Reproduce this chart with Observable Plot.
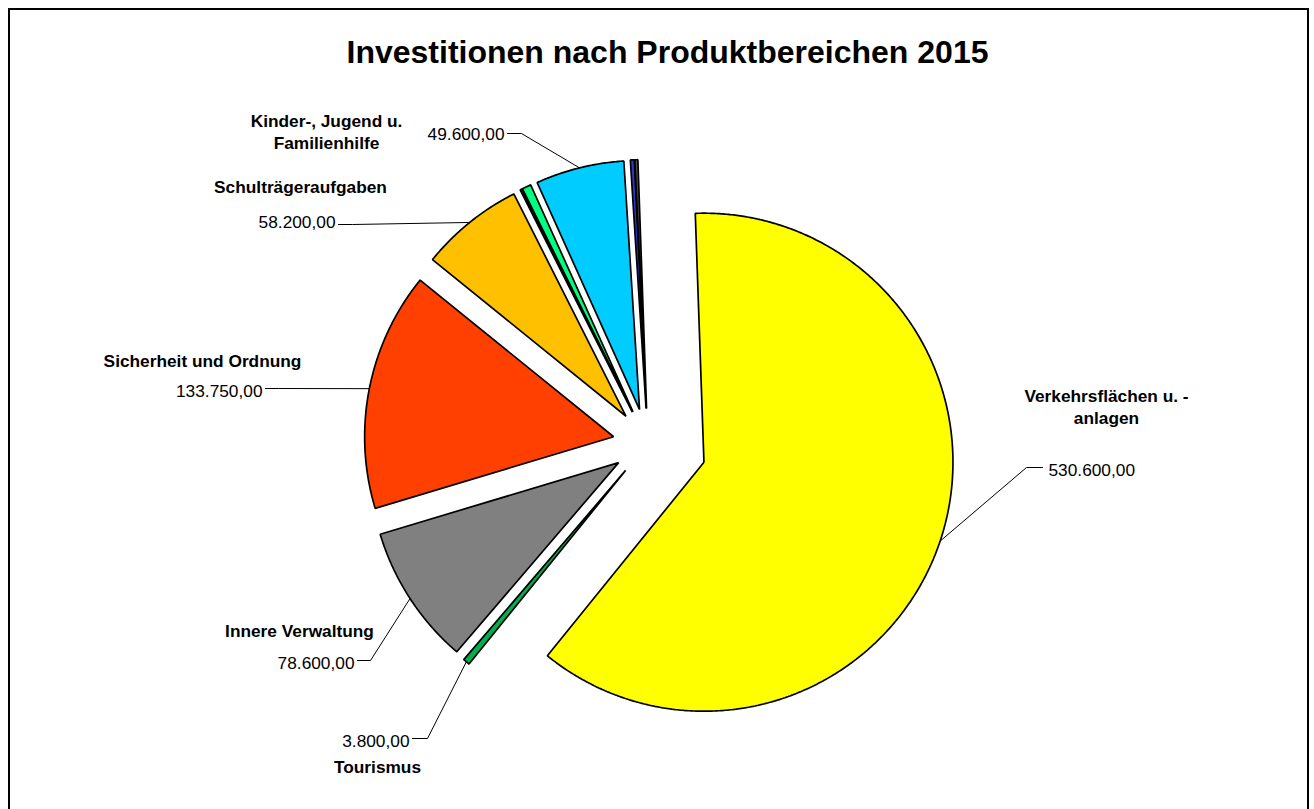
<!DOCTYPE html>
<html><head><meta charset="utf-8">
<script src="https://cdn.jsdelivr.net/npm/d3@7"></script>
<script src="https://cdn.jsdelivr.net/npm/@observablehq/plot@0.6"></script>
<style>
html,body{margin:0;padding:0;overflow:hidden;background:#fff;width:1314px;height:809px}
#frame{position:absolute;left:8px;top:8px;width:1301px;height:830px;border:2px solid #000;box-sizing:border-box;pointer-events:none}
#title{position:absolute;left:0;top:36px;width:1335px;text-align:center;font:bold 32px "Liberation Sans",Arial,sans-serif;line-height:32px;white-space:nowrap;color:#000}
#chart{position:absolute;left:0;top:90px}
</style></head><body>
<div id="title">Investitionen nach Produktbereichen 2015</div>
<div id="chart"></div>
<div id="frame"></div>
<script>
// ---- data ----
const categories = [
  "Verkehrsflächen u. -anlagen",
  "Tourismus",
  "Innere Verwaltung",
  "Sicherheit und Ordnung",
  "Schulträgeraufgaben",
  "Bereich A",
  "Bereich B",
  "Kinder-, Jugend u. Familienhilfe",
  "Bereich C",
  "Bereich D"
];
const values = [530600, 3800, 78600, 133750, 58200, 1000, 5000, 49600, 2200, 1700];
const nameLabels = [
  "Verkehrsflächen u. -\nanlagen",
  "Tourismus",
  "Innere Verwaltung",
  "Sicherheit und Ordnung",
  "Schulträgeraufgaben",
  null,
  null,
  "Kinder-, Jugend u.\nFamilienhilfe",
  null,
  null
];

// ---- styles ----
const colors = ["#FFFF00", "#00B050", "#808080", "#FF4000", "#FFC000", "#99CC00", "#00FF80", "#00CCFF", "#3333CC", "#4D4D4D"];

// ---- layout (page pixels) ----
const CX = 647.5, CY = 443, R = 249, START_DEG = -2;
const explodePx = [59, 35, 35, 35, 35, 35, 35, 35, 35, 35];
const labelLayout = [
  {i: 0, nx: 1106, ny: 423, vx: 1048, vy: 475, anchor: "start", sx: 1042, ex: 1026, ey: 467},
  {i: 1, nx: 377, ny: 772, vx: 409, vy: 746, anchor: "end", sx: 412, ex: 427, ey: 738},
  {i: 2, nx: 299, ny: 636, vx: 354, vy: 668, anchor: "end", sx: 357, ex: 370, ey: 660},
  {i: 3, nx: 202, ny: 366, vx: 262, vy: 396, anchor: "end", sx: 265, ex: 278, ey: 388},
  {i: 4, nx: 300, ny: 192, vx: 335, vy: 227, anchor: "end", sx: 338, ex: 352, ey: 224},
  {i: 7, nx: 326, ny: 148, vx: 504, vy: 139, anchor: "end", sx: 507, ex: 521, ey: 133}
];

const fmt = d3.formatLocale({decimal: ",", thousands: ".", grouping: [3], currency: ["", ""]}).format(",.2f");

const s0 = START_DEG * Math.PI / 180;
const arcs = d3.pie().sort(null).startAngle(s0).endAngle(s0 + 2 * Math.PI)(values);

const slicePts = [];
const geo = arcs.map((a, i) => {
  const mid = (a.startAngle + a.endAngle) / 2;
  const e = explodePx[i];
  const ox = CX + e * Math.sin(mid), oy = CY - e * Math.cos(mid);
  const cat = categories[i];
  slicePts.push({cat, x: ox, y: oy});
  const n = Math.max(2, Math.ceil((a.endAngle - a.startAngle) / (0.4 * Math.PI / 180)));
  for (let k = 0; k <= n; k++) {
    const t = a.startAngle + (a.endAngle - a.startAngle) * k / n;
    slicePts.push({cat, x: ox + R * Math.sin(t), y: oy - R * Math.cos(t)});
  }
  slicePts.push({cat, x: ox, y: oy});
  return {ox, oy, mid, ax: ox + R * Math.sin(mid), ay: oy - R * Math.cos(mid)};
});

const leaderPts = [];
const names = [], vals = [];
for (const L of labelLayout) {
  const g = geo[L.i];
  leaderPts.push({id: L.i, x: L.sx, y: L.ey}, {id: L.i, x: L.ex, y: L.ey}, {id: L.i, x: g.ax, y: g.ay});
  names.push({x: L.nx, y: L.ny, text: nameLabels[L.i]});
  vals.push({x: L.vx, y: L.vy, text: fmt(values[L.i]), anchor: L.anchor});
}

const font = "Liberation Sans, Arial, Helvetica, sans-serif";
const chart = Plot.plot({
  width: 1314,
  height: 719,
  margin: 0,
  style: {fontFamily: font, background: "transparent"},
  x: {domain: [0, 1314], range: [0, 1314], axis: null},
  y: {domain: [90, 809], range: [0, 719], axis: null},
  color: {domain: categories, range: colors},
  marks: [
    Plot.line(slicePts, {x: "x", y: "y", z: "cat", fill: "cat", stroke: "#000", strokeWidth: 1.7, strokeLinejoin: "miter", strokeLinecap: "butt", curve: "linear"}),
    Plot.line(leaderPts, {x: "x", y: "y", z: "id", stroke: "#000", strokeWidth: 1, strokeLinejoin: "miter"}),
    Plot.text(names, {x: "x", y: "y", text: "text", textAnchor: "middle", lineAnchor: "bottom", lineHeight: 1.27, fontSize: 17.3, fontWeight: "bold", fontFamily: font, fill: "#000"}),
    Plot.text(vals.filter(d => d.anchor === "end"), {x: "x", y: "y", text: "text", textAnchor: "end", lineAnchor: "bottom", fontSize: 17.3, fontFamily: font, fill: "#000"}),
    Plot.text(vals.filter(d => d.anchor === "start"), {x: "x", y: "y", text: "text", textAnchor: "start", lineAnchor: "bottom", fontSize: 17.3, fontFamily: font, fill: "#000"})
  ]
});
document.getElementById("chart").appendChild(chart);
</script>
</body></html>
